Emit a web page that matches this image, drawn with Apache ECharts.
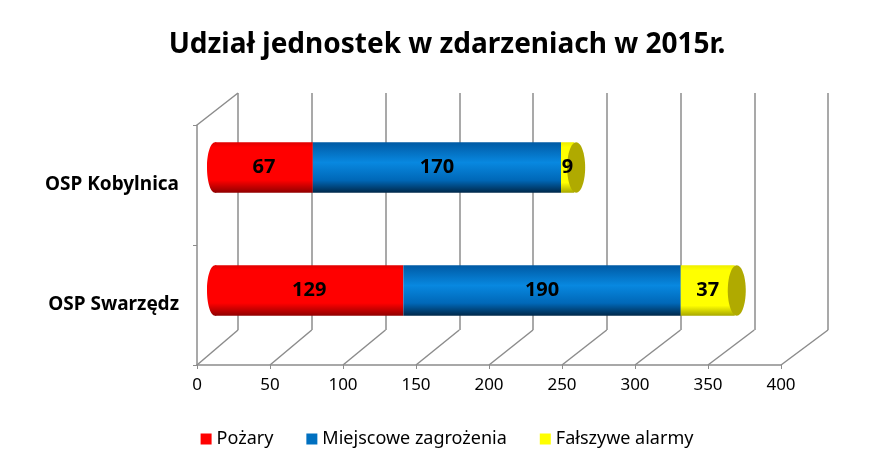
<!DOCTYPE html>
<html>
<head>
<meta charset="utf-8">
<script src="https://cdn.jsdelivr.net/npm/echarts@6/dist/echarts.min.js"></script>
<style>
  html, body { margin: 0; padding: 0; background: #fff; }
  #chart { width: 894px; height: 470px; }
</style>
</head>
<body>
<div id="chart"></div>
<script>
// dane wykresu
var categories = ["OSP Swarzędz", "OSP Kobylnica"];
var pozary = [129, 67];
var miejscowe = [190, 170];
var falszywe = [37, 9];
var xTicks = [0, 50, 100, 150, 200, 250, 300, 350, 400];

var totals = categories.map(function (c, i) {
  return pozary[i] + miejscowe[i] + falszywe[i];
});

var FONT = "'Noto Sans', 'DejaVu Sans', sans-serif";
var GRID_COLOR = "#8c8c8c";
var LABEL = { show: true, position: "inside", fontFamily: FONT, fontSize: 20, fontWeight: "bold", color: "#000" };

// cieniowanie walca (pionowy gradient)
function cyl(stops) {
  return new echarts.graphic.LinearGradient(0, 0, 0, 1, stops.map(function (s) {
    return { offset: s[0], color: s[1] };
  }));
}

var chart = echarts.init(document.getElementById("chart"));

// lewa elipsa walca
function startCap(params, api) {
  var p = api.coord([0, api.value(1)]);
  var h = api.size([0, 1])[1] * 0.41;
  return {
    type: "ellipse",
    shape: { cx: p[0], cy: p[1], rx: 8, ry: h / 2 },
    style: { fill: cyl([[0, "#e00000"], [0.1, "#ff0000"], [0.75, "#ff0000"], [1, "#900000"]]) }
  };
}

// prawa elipsa + etykieta ostatniego odcinka
function endCap(params, api) {
  var total = api.value(0), last = api.value(2);
  var p = api.coord([total, api.value(1)]);
  var m = api.coord([total - last / 2, api.value(1)]);
  var h = api.size([0, 1])[1] * 0.41;
  return {
    type: "group",
    children: [
      { type: "ellipse", shape: { cx: p[0] + 2, cy: p[1], rx: 9, ry: h / 2 }, style: { fill: "#b0aa00" } },
      {
        type: "text", z2: 10,
        style: {
          x: m[0], y: m[1], text: String(last), align: "center", verticalAlign: "middle",
          font: "bold 20px " + FONT, fill: "#000"
        }
      }
    ]
  };
}

chart.setOption({
  animation: false,
  color: ["#ff0000", "#0070c0", "#ffff00"],
  title: {
    text: "Udział jednostek w zdarzeniach w 2015r.",
    left: "center",
    top: 26,
    textStyle: { fontFamily: FONT, fontSize: 28, fontWeight: "bold", color: "#000" }
  },
  legend: {
    bottom: 17,
    left: "center",
    itemWidth: 11,
    itemHeight: 11,
    itemGap: 33,
    icon: "rect",
    data: [
      { name: "Pożary", itemStyle: { color: "#ff0000" } },
      { name: "Miejscowe zagrożenia", itemStyle: { color: "#0070c0" } },
      { name: "Fałszywe alarmy", itemStyle: { color: "#ffff00" } }
    ],
    textStyle: { fontFamily: FONT, fontSize: 18, color: "#000" }
  },
  grid: [
    // przednia płaszczyzna (osie)
    { left: 197, right: 113, top: 125, bottom: 105 },
    // tylna ściana
    { left: 238, right: 66, top: 93, bottom: 140 },
    // słupki
    { left: 215, right: 95, top: 106, bottom: 118 }
  ],
  xAxis: [
    {
      gridIndex: 0, type: "value", min: 0, max: 400, interval: 50,
      axisLine: { show: true, lineStyle: { color: GRID_COLOR, width: 1.5 } },
      axisTick: { show: true, length: 4, lineStyle: { color: GRID_COLOR } },
      splitLine: { show: false },
      axisLabel: { fontFamily: FONT, fontSize: 17, color: "#000", margin: 12 }
    },
    {
      gridIndex: 1, type: "value", min: 0, max: 400, interval: 50,
      axisLine: { show: false }, axisTick: { show: false }, axisLabel: { show: false },
      splitLine: { show: true, lineStyle: { color: GRID_COLOR, width: 1.5 } }
    },
    {
      gridIndex: 2, type: "value", min: 0, max: 400, interval: 50, show: false
    }
  ],
  yAxis: [
    {
      gridIndex: 0, type: "category", data: categories,
      axisLine: { show: true, lineStyle: { color: GRID_COLOR, width: 1.5 } },
      axisTick: { show: true, length: 4, lineStyle: { color: GRID_COLOR } },
      axisLabel: { fontFamily: FONT, fontSize: 19, fontWeight: "bold", color: "#000", margin: 18 }
    },
    { gridIndex: 1, type: "category", data: categories, show: false },
    { gridIndex: 2, type: "category", data: categories, show: false }
  ],
  series: [
    {
      type: "custom", xAxisIndex: 2, yAxisIndex: 2, z: 1, silent: true,
      renderItem: startCap,
      data: categories.map(function (c, i) { return [0, i]; })
    },
    {
      name: "Pożary", type: "bar", stack: "all", xAxisIndex: 2, yAxisIndex: 2,
      barWidth: "41%", z: 2,
      itemStyle: { color: cyl([[0, "#e00000"], [0.1, "#ff0000"], [0.75, "#ff0000"], [1, "#900000"]]) },
      label: LABEL,
      data: pozary
    },
    {
      name: "Miejscowe zagrożenia", type: "bar", stack: "all", xAxisIndex: 2, yAxisIndex: 2,
      z: 2,
      itemStyle: { color: cyl([[0, "#005aa4"], [0.4, "#0888e0"], [0.75, "#0068b8"], [1, "#00284a"]]) },
      label: LABEL,
      data: miejscowe
    },
    {
      name: "Fałszywe alarmy", type: "bar", stack: "all", xAxisIndex: 2, yAxisIndex: 2,
      z: 2,
      itemStyle: { color: cyl([[0, "#eeee00"], [0.1, "#ffff00"], [0.8, "#ffff00"], [1, "#a8a800"]]) },
      data: falszywe
    },
    {
      type: "custom", xAxisIndex: 2, yAxisIndex: 2, z: 3, silent: true,
      renderItem: endCap,
      data: totals.map(function (t, i) { return [t, i, falszywe[i]]; })
    }
  ]
});

// linie perspektywy (podłoga i lewa ściana)
var r0 = chart.getModel().getComponent("grid", 0).coordinateSystem.getRect();
var r1 = chart.getModel().getComponent("grid", 1).coordinateSystem.getRect();
var lines = [];
function seg(a, b) {
  lines.push({
    type: "line", silent: true,
    shape: { x1: a[0], y1: a[1], x2: b[0], y2: b[1] },
    style: { stroke: GRID_COLOR, lineWidth: 1.5 }
  });
}
xTicks.forEach(function (v) {
  var f = chart.convertToPixel({ gridIndex: 0 }, [v, 0]);
  var bk = chart.convertToPixel({ gridIndex: 1 }, [v, 0]);
  seg([f[0], r0.y + r0.height], [bk[0], r1.y + r1.height]);
});
seg([r0.x, r0.y], [r1.x, r1.y]);
chart.setOption({ graphic: lines });
</script>
</body>
</html>
